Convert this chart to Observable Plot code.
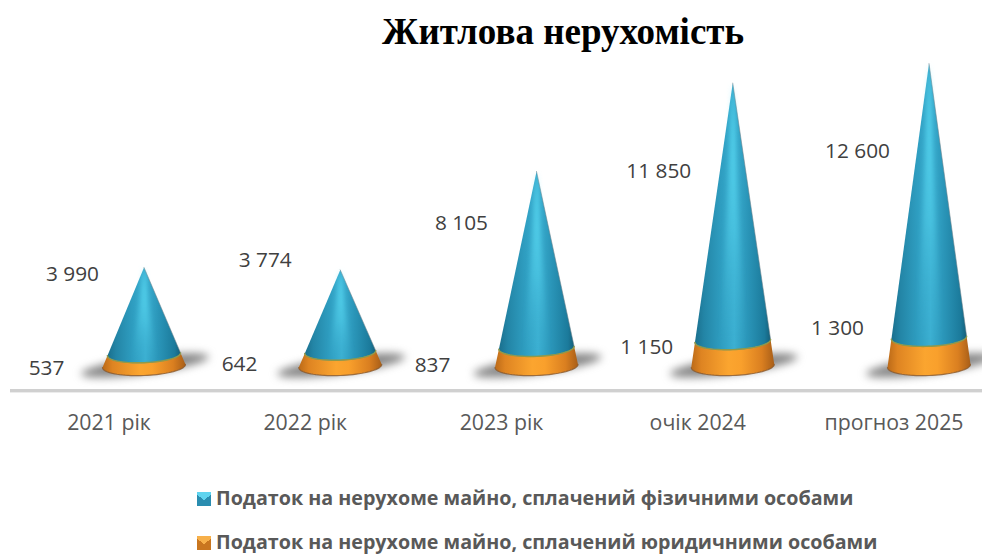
<!DOCTYPE html>
<html><head><meta charset="utf-8">
<script src="https://cdn.jsdelivr.net/npm/d3@7"></script>
<script src="https://cdn.jsdelivr.net/npm/@observablehq/plot@0.6"></script>
<style>
html,body{margin:0;padding:0;background:#fff}
#wrap{position:relative;width:982px;height:556px;overflow:hidden}
#title{position:absolute;left:0;top:0;width:982px;height:50px;text-align:center;font:bold 37px "Liberation Serif",serif;color:#000;line-height:64px;padding-left:144px;box-sizing:border-box}
#chart{position:absolute;left:0;top:50px}
.leg{position:absolute;left:197px;font:bold 19.7px "Open Sans",sans-serif;color:#595959;white-space:nowrap;line-height:22px}
.leg i{display:inline-block;width:14px;height:14px;margin-right:5px;vertical-align:-1px}
.shadow{filter:blur(4px)}
.glow{filter:blur(2.5px)}
</style></head><body>
<div id="wrap">
<div id="title">Житлова нерухомість</div>
<div id="chart"></div>
<div class="leg" style="top:487px"><i style="background:conic-gradient(from -50deg at 50% 60%,#5fd4ef 0 100deg,#2a8db0 100deg 360deg)"></i><span id="l0"></span></div>
<div class="leg" style="top:531px"><i style="background:conic-gradient(from -50deg at 50% 60%,#f7b04a 0 100deg,#c9761f 100deg 360deg)"></i><span id="l1"></span></div>
</div>
<script>
const categories = ["2021 рік","2022 рік","2023 рік","очік 2024","прогноз 2025"];
const individuals = [3990,3774,8105,11850,12600];
const legalEntities = [537,642,837,1150,1300];
const valueLabels = ["3 990","3 774","8 105","11 850","12 600"];
const lowerLabels = ["537","642","837","1 150","1 300"];
const seriesNames = ["Податок на нерухоме майно, сплачений фізичними особами","Податок на нерухоме майно, сплачений юридичними особами"];

// label placement offsets in pixels (from cone apex / band boundary)
const upperOffsets = [[-71.5,7],[-75,-9.5],[-75,52],[-74,88],[-71.5,88]];
const lowerOffsets = [[-97.5,14],[-100.75,12.5],[-104,17.7],[-86,6.5],[-91.5,-9]];

document.getElementById("l0").textContent = seriesNames[0];
document.getElementById("l1").textContent = seriesNames[1];

const pxPerValue = 0.02176, pxPerCat = 196.25;
const R = 41.5/pxPerCat, Ry = 9.5/pxPerValue, Tilt = 1.6/pxPerValue;
const totals = individuals.map((v,i)=>v+legalEntities[i]);

function ring(i,h,H,t){
  const k = 1-h/H;
  return {x:i+R*k*Math.cos(t), y:h-Ry*k*Math.sin(t)+Tilt*k*Math.cos(t)};
}
const arc = (i,h,H,from,to,n=40)=>d3.range(n+1).map(j=>ring(i,h,H,from+(to-from)*j/n));

const blue=[], orange=[], glow=[], seam=[], foot=[], shadow=[];
totals.forEach((H,i)=>{
  const seg=legalEntities[i];
  blue.push({cone:i,x:i,y:H}, ...arc(i,seg,H,0,Math.PI).map(p=>({...p,cone:i})));
  orange.push(...arc(i,seg,H,Math.PI,0).map(p=>({...p,cone:i})), ...arc(i,0,H,0,Math.PI).map(p=>({...p,cone:i})));
  seam.push(...arc(i,seg,H,0,Math.PI).map(p=>({...p,cone:i})));
  foot.push(...arc(i,0,H,0,Math.PI).map(p=>({...p,cone:i})));
  const gk=0.30, b=ring(i,seg,H,Math.PI/2);
  const kk=1-seg/H;
  glow.push({cone:i,x:i,y:H},{cone:i,x:i+R*kk*gk,y:b.y},{cone:i,x:i-R*kk*gk,y:b.y});
  d3.range(49).forEach(j=>{
    const t=j/48*2*Math.PI, c=Math.cos(t), s=Math.sin(t);
    shadow.push({cone:i,x:i+0.005+0.325*c,y:(8.5*s+8.5*c)/pxPerValue+30});
  });
});

const yMin=-1126, yMax=14499;
const labelFont=20.8;
const upperLabelMarks = valueLabels.map((t,i)=>Plot.text([t],{x:()=>i,y:()=>totals[i],text:d=>d,dx:upperOffsets[i][0],dy:upperOffsets[i][1],fontSize:labelFont,fill:"#404040"}));
const lowerLabelMarks = lowerLabels.map((t,i)=>Plot.text([t],{x:()=>i,y:()=>legalEntities[i],text:d=>d,dx:lowerOffsets[i][0],dy:lowerOffsets[i][1],fontSize:labelFont,fill:"#404040"}));

const grad=(id,stops)=>`<linearGradient id="${id}" x1="0" x2="1" y1="0" y2="0">${stops.map(([o,c])=>`<stop offset="${o}" stop-color="${c}"/>`).join("")}</linearGradient>`;
const defs=()=>{
  const g=document.createElementNS("http://www.w3.org/2000/svg","g");
  const d=document.createElementNS("http://www.w3.org/2000/svg","defs");
  d.innerHTML=grad("gBlue",[[0,"#1a6f8d"],[.12,"#2385a6"],[.35,"#2f9ec1"],[.52,"#3cb0d2"],[.7,"#2a95b8"],[.92,"#1b7a9b"],[1,"#155f7a"]])
    +grad("gOrange",[[0,"#bb6a18"],[.12,"#de8422"],[.45,"#fba52f"],[.6,"#f9a02c"],[.85,"#da7f20"],[1,"#a85e18"]])
    +`<linearGradient id="gGlow" x1="0" x2="0" y1="0" y2="1"><stop offset="0" stop-color="#5fe3fa" stop-opacity=".95"/><stop offset=".55" stop-color="#52cfea" stop-opacity=".55"/><stop offset="1" stop-color="#3cb0d2" stop-opacity="0"/></linearGradient>`;
  g.appendChild(d);return g;
};

const plot=Plot.plot({
  width:982,height:400,marginTop:0,marginBottom:60,marginLeft:0,marginRight:0,
  style:{fontFamily:'"Open Sans",sans-serif',background:"transparent"},
  x:{type:"linear",domain:[-143.5/pxPerCat,(982-143.5)/pxPerCat],range:[0,982]},
  y:{domain:[yMin,yMax],range:[340,0],axis:null},
  marks:[
    defs,
    Plot.line(shadow,{x:"x",y:"y",z:"cone",fill:"#707070",stroke:"none",className:"shadow",fillOpacity:.85}),
    Plot.ruleY([yMin],{x1:-133.5/pxPerCat,x2:(982-143.5)/pxPerCat,stroke:"#d0d0d0",strokeWidth:3}),
    Plot.ruleY([yMin],{x1:-133.5/pxPerCat,x2:(982-143.5)/pxPerCat,stroke:"#ececec",strokeWidth:1,dy:2}),
    Plot.axisX({ticks:d3.range(categories.length),tickFormat:i=>categories[i],tickSize:0,tickPadding:24,fontSize:21.3,color:"#595959",anchor:"bottom",label:null,dx:-35}),
    Plot.line(orange,{x:"x",y:"y",z:"cone",fill:"url(#gOrange)",stroke:"none"}),
    Plot.line(foot,{x:"x",y:"y",z:"cone",stroke:"#8a5a2e",strokeWidth:1.2,strokeOpacity:.8}),
    Plot.line(blue,{x:"x",y:"y",z:"cone",fill:"url(#gBlue)",stroke:"#6b7f88",strokeWidth:1,strokeOpacity:.55}),
    Plot.line(glow,{x:"x",y:"y",z:"cone",fill:"url(#gGlow)",stroke:"none",className:"glow"}),
    Plot.line(seam,{x:"x",y:"y",z:"cone",stroke:"#8f9a4a",strokeWidth:1.4}),
    ...upperLabelMarks,
    ...lowerLabelMarks
  ]
});
document.getElementById("chart").appendChild(plot);
</script>
</body></html>
